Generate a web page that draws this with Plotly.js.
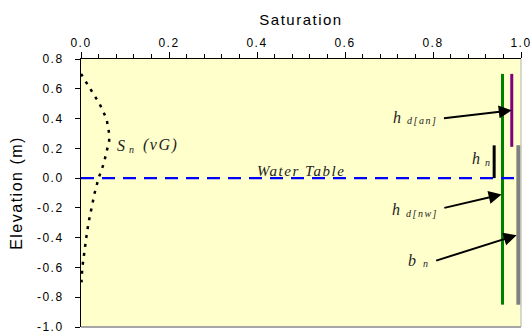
<!DOCTYPE html>
<html>
<head>
<meta charset="utf-8">
<script src="https://cdn.plot.ly/plotly-3.0.1.min.js"></script>
<style>
body { margin: 0; background: #fff; }
.xtitle, .ytitle, .xtick text, .ytick text { letter-spacing: 1.5px; }
.annotation-text { letter-spacing: 1.5px; }
</style>
</head>
<body>
<div id="sat_plot" style="width:531px;height:335px;"></div>
<script>
// NAPL saturation profile (vG)
var elevation  = [0.70, 0.60, 0.50, 0.40, 0.30, 0.25, 0.20, 0.10, 0.00, -0.10, -0.20, -0.30, -0.40, -0.50, -0.60, -0.70];
var saturation = [0.000, 0.022, 0.042, 0.058, 0.064, 0.064, 0.060, 0.052, 0.040, 0.031, 0.024, 0.017, 0.012, 0.008, 0.003, 0.001];

// water table
var wtSat  = [0.0, 1.0];
var wtElev = [0.0, 0.0];

// vertical bars: [saturation, saturation], [bottom, top]
var hnSat   = [0.939, 0.939], hnElev   = [0.00, 0.22];
var hdnwSat = [0.958, 0.958], hdnwElev = [-0.85, 0.70];
var hdanSat = [0.979, 0.979], hdanElev = [0.21, 0.70];
var bnSat   = [0.994, 0.994], bnElev   = [-0.85, 0.22];

// ticks
var xTickVals = [0.0, 0.2, 0.4, 0.6, 0.8, 1.0];
var xTickText = ['0.0', '0.2', '0.4', '0.6', '0.8', '1.0'];
var xMinorStep = 0.04;
var yTickVals = [-1.0, -0.8, -0.6, -0.4, -0.2, 0.0, 0.2, 0.4, 0.6, 0.8];
var yTickText = ['-1.0', '-0.8', '-0.6', '-0.4', '-0.2', '0.0', '0.2', '0.4', '0.6', '0.8'];

var serif = '"Liberation Serif", "Times New Roman", serif';
var inkColor = '#222222';

var traces = [
    {type: 'scatter', mode: 'lines', x: saturation, y: elevation,
     line: {color: '#000000', width: 2.5, dash: '3px,6px'}, hoverinfo: 'none'},
    {type: 'scatter', mode: 'lines', x: wtSat, y: wtElev, xaxis: 'x2',
     line: {color: '#0000FF', width: 2.3, dash: '13px,8px'}, hoverinfo: 'none'},
    {type: 'scatter', mode: 'lines', x: hnSat, y: hnElev,
     line: {color: '#000000', width: 3}, hoverinfo: 'none'},
    {type: 'scatter', mode: 'lines', x: hdnwSat, y: hdnwElev,
     line: {color: '#008000', width: 3}, hoverinfo: 'none'},
    {type: 'scatter', mode: 'lines', x: hdanSat, y: hdanElev,
     line: {color: '#800080', width: 3}, hoverinfo: 'none'},
    {type: 'scatter', mode: 'lines', x: bnSat, y: bnElev,
     line: {color: '#808080', width: 4}, hoverinfo: 'none'}
];

function label(txt, x, y, anchor, size) {
    return {x: x, y: y, xref: 'x', yref: 'y', text: '<i>' + txt + '</i>', showarrow: false,
            xanchor: anchor, yanchor: 'middle',
            font: {family: serif, size: size, color: inkColor}};
}
// subscript text sits at the tail (ax, ay), arrow points to (x, y)
function pointer(txt, x, y, ax, ay) {
    return {x: x, y: y, ax: ax, ay: ay, xref: 'x', yref: 'y', axref: 'x', ayref: 'y',
            text: '<i>' + txt + '</i>', showarrow: true,
            arrowhead: 2, arrowsize: 1.3, arrowwidth: 2, arrowcolor: '#000000',
            standoff: 0, startstandoff: 5,
            font: {family: serif, size: 10, color: inkColor}};
}

var annotations = [
    // S_n (vG)
    label('S', 0.077, 0.22, 'left', 16),
    label('n', 0.117, 0.195, 'center', 10),
    label('(vG)', 0.136, 0.22, 'left', 16),
    // water table
    label('Water Table', 0.50, 0.05, 'center', 15),
    // h_n
    label('h', 0.884, 0.13, 'left', 16),
    label('n', 0.926, 0.105, 'center', 10),
    // h_d[an]
    label('h', 0.705, 0.41, 'left', 16),
    pointer('d[an]', 0.979, 0.455, 0.776, 0.385),
    // h_d[nw]
    label('h', 0.702, -0.21, 'left', 16),
    pointer('d[nw]', 0.956, -0.11, 0.775, -0.235),
    // b_n
    label('b', 0.738, -0.55, 'left', 16),
    pointer('n', 0.990, -0.383, 0.785, -0.575)
];

var layout = {
    width: 531,
    height: 335,
    margin: {l: 81, r: 10, t: 59, b: 8},
    paper_bgcolor: '#FFFFFF',
    plot_bgcolor: '#FFFFCC',
    showlegend: false,
    font: {family: '"Liberation Sans", Arial, sans-serif', size: 12, color: '#000000'},
    xaxis: {
        side: 'top',
        range: [0, 1.0],
        tickmode: 'array', tickvals: xTickVals, ticktext: xTickText,
        ticks: 'outside', ticklen: 6, tickcolor: '#000000', tickwidth: 1,
        ticklabeloverflow: 'allow',
        showline: true, linecolor: '#000000', linewidth: 1,
        showgrid: false, zeroline: false,
        tickfont: {size: 12, color: '#000000'},
        title: {text: 'Saturation', font: {size: 15, color: '#000000'}, standoff: 6}
    },
    // overlay axis carrying only the small ticks along the top
    xaxis2: {
        overlaying: 'x', side: 'top',
        range: [0, 1.0],
        tickmode: 'linear', tick0: 0, dtick: xMinorStep,
        ticks: 'outside', ticklen: 4, tickcolor: '#000000', tickwidth: 1,
        showticklabels: false, showline: false, showgrid: false, zeroline: false
    },
    yaxis: {
        range: [-1.0, 0.8],
        tickmode: 'array', tickvals: yTickVals, ticktext: yTickText,
        ticks: 'outside', ticklen: 5, tickcolor: '#000000', tickwidth: 1,
        ticklabelstandoff: 9,
        ticklabeloverflow: 'allow',
        showline: true, linecolor: '#000000', linewidth: 1,
        showgrid: false, zeroline: false,
        tickfont: {size: 12, color: '#000000'},
        title: {text: 'Elevation (m)', font: {size: 16, color: '#000000'}, standoff: 10}
    },
    shapes: [
        {type: 'line', xref: 'paper', yref: 'paper', x0: 0, x1: 1, y0: 0, y1: 0,
         line: {color: '#A6A6A6', width: 2}},
        {type: 'line', xref: 'paper', yref: 'paper', x0: 1, x1: 1, y0: 0, y1: 1,
         line: {color: '#B0B0B0', width: 1}}
    ],
    annotations: annotations
};

Plotly.newPlot('sat_plot', traces, layout, {displayModeBar: false, staticPlot: true});
</script>
</body>
</html>
